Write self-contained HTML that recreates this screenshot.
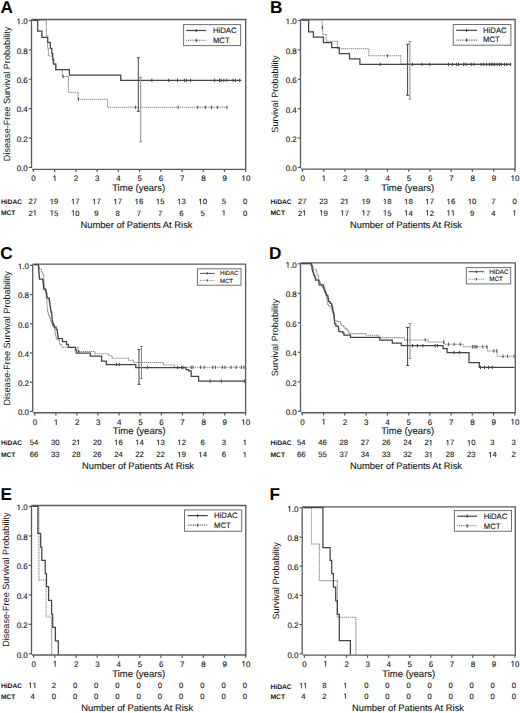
<!DOCTYPE html>
<html><head><meta charset="utf-8"><style>
html,body{margin:0;padding:0;background:#fff;}
svg{display:block;font-family:"Liberation Sans",sans-serif;text-rendering:geometricPrecision;}
</style></head><body>
<svg width="520" height="713" viewBox="0 0 520 713">
<rect width="520" height="713" fill="#fff"/>
<text x="0.4" y="12.9" font-size="17.2" text-anchor="start" font-weight="bold" fill="#000">A</text>
<path d="M31.5 19.5 V168" stroke="#5a5a5a" stroke-width="1.3" fill="none"/>
<path d="M31.5 19.5 H245.7 V169.3" stroke="#5a5a5a" stroke-width="1.3" fill="none"/>
<path d="M32.1 169.3 H246.1" stroke="#5a5a5a" stroke-width="1.35" fill="none"/>
<path d="M28.8 167.4 H31.5" stroke="#5a5a5a" stroke-width="1.25" fill="none"/>
<text x="27.8" y="171.2" font-size="8" text-anchor="end" font-weight="normal" fill="#161616" stroke="#161616" stroke-width="0.12">0.0</text>
<path d="M28.8 138.02 H31.5" stroke="#5a5a5a" stroke-width="1.25" fill="none"/>
<text x="27.8" y="141.82" font-size="8" text-anchor="end" font-weight="normal" fill="#161616" stroke="#161616" stroke-width="0.12">0.2</text>
<path d="M28.8 108.64 H31.5" stroke="#5a5a5a" stroke-width="1.25" fill="none"/>
<text x="27.8" y="112.44" font-size="8" text-anchor="end" font-weight="normal" fill="#161616" stroke="#161616" stroke-width="0.12">0.4</text>
<path d="M28.8 79.26 H31.5" stroke="#5a5a5a" stroke-width="1.25" fill="none"/>
<text x="27.8" y="83.06" font-size="8" text-anchor="end" font-weight="normal" fill="#161616" stroke="#161616" stroke-width="0.12">0.6</text>
<path d="M28.8 49.88 H31.5" stroke="#5a5a5a" stroke-width="1.25" fill="none"/>
<text x="27.8" y="53.68" font-size="8" text-anchor="end" font-weight="normal" fill="#161616" stroke="#161616" stroke-width="0.12">0.8</text>
<path d="M28.8 20.5 H31.5" stroke="#5a5a5a" stroke-width="1.25" fill="none"/>
<path d="M515 0L515 1237L197 1010L197 1180L530 1409L696 1409L696 0Z" fill="#161616" stroke="#161616" stroke-width="0.12" vector-effect="non-scaling-stroke" transform="translate(16.68 24.3) scale(0.003906 -0.003906)"/>
<text x="21.13" y="24.3" font-size="8" text-anchor="start" font-weight="normal" fill="#161616" stroke="#161616" stroke-width="0.12">.0</text>
<path d="M33.4 169.3 V172" stroke="#5a5a5a" stroke-width="1.25" fill="none"/>
<text x="33.6" y="181" font-size="8" text-anchor="middle" font-weight="normal" fill="#161616" stroke="#161616" stroke-width="0.12">0</text>
<path d="M54.63 169.3 V172" stroke="#5a5a5a" stroke-width="1.25" fill="none"/>
<path d="M515 0L515 1237L197 1010L197 1180L530 1409L696 1409L696 0Z" fill="#161616" stroke="#161616" stroke-width="0.12" vector-effect="non-scaling-stroke" transform="translate(52.61 181) scale(0.003906 -0.003906)"/>
<path d="M75.86 169.3 V172" stroke="#5a5a5a" stroke-width="1.25" fill="none"/>
<text x="76.06" y="181" font-size="8" text-anchor="middle" font-weight="normal" fill="#161616" stroke="#161616" stroke-width="0.12">2</text>
<path d="M97.09 169.3 V172" stroke="#5a5a5a" stroke-width="1.25" fill="none"/>
<text x="97.29" y="181" font-size="8" text-anchor="middle" font-weight="normal" fill="#161616" stroke="#161616" stroke-width="0.12">3</text>
<path d="M118.32 169.3 V172" stroke="#5a5a5a" stroke-width="1.25" fill="none"/>
<text x="118.52" y="181" font-size="8" text-anchor="middle" font-weight="normal" fill="#161616" stroke="#161616" stroke-width="0.12">4</text>
<path d="M139.55 169.3 V172" stroke="#5a5a5a" stroke-width="1.25" fill="none"/>
<text x="139.75" y="181" font-size="8" text-anchor="middle" font-weight="normal" fill="#161616" stroke="#161616" stroke-width="0.12">5</text>
<path d="M160.78 169.3 V172" stroke="#5a5a5a" stroke-width="1.25" fill="none"/>
<text x="160.98" y="181" font-size="8" text-anchor="middle" font-weight="normal" fill="#161616" stroke="#161616" stroke-width="0.12">6</text>
<path d="M182.01 169.3 V172" stroke="#5a5a5a" stroke-width="1.25" fill="none"/>
<text x="182.21" y="181" font-size="8" text-anchor="middle" font-weight="normal" fill="#161616" stroke="#161616" stroke-width="0.12">7</text>
<path d="M203.24 169.3 V172" stroke="#5a5a5a" stroke-width="1.25" fill="none"/>
<text x="203.44" y="181" font-size="8" text-anchor="middle" font-weight="normal" fill="#161616" stroke="#161616" stroke-width="0.12">8</text>
<path d="M224.47 169.3 V172" stroke="#5a5a5a" stroke-width="1.25" fill="none"/>
<text x="224.67" y="181" font-size="8" text-anchor="middle" font-weight="normal" fill="#161616" stroke="#161616" stroke-width="0.12">9</text>
<path d="M245.7 169.3 V172" stroke="#5a5a5a" stroke-width="1.25" fill="none"/>
<path d="M515 0L515 1237L197 1010L197 1180L530 1409L696 1409L696 0Z" fill="#161616" stroke="#161616" stroke-width="0.12" vector-effect="non-scaling-stroke" transform="translate(241.45 181) scale(0.003906 -0.003906)"/>
<text x="245.9" y="181" font-size="8" text-anchor="start" font-weight="normal" fill="#161616" stroke="#161616" stroke-width="0.12">0</text>
<text x="138.65" y="191.4" font-size="9.5" text-anchor="middle" font-weight="normal" fill="#161616" stroke="#161616" stroke-width="0.12">Time (years)</text>
<text x="0" y="0" font-size="9.1" text-anchor="middle" fill="#161616" transform="translate(10.1 93.95) rotate(-90)">Disease-Free Survival Probability</text>
<text x="0.9" y="204.2" font-size="6.7" text-anchor="start" font-weight="bold" fill="#111">HiDAC</text>
<text x="0.9" y="215.2" font-size="6.7" text-anchor="start" font-weight="bold" fill="#111">MCT</text>
<text x="32.8" y="204.3" font-size="7.7" text-anchor="middle" font-weight="normal" fill="#161616" stroke="#161616" stroke-width="0.12">27</text>
<text x="28.52" y="215.5" font-size="7.7" text-anchor="start" font-weight="normal" fill="#161616" stroke="#161616" stroke-width="0.12">2</text>
<path d="M515 0L515 1237L197 1010L197 1180L530 1409L696 1409L696 0Z" fill="#161616" stroke="#161616" stroke-width="0.12" vector-effect="non-scaling-stroke" transform="translate(32.8 215.5) scale(0.003760 -0.003760)"/>
<path d="M515 0L515 1237L197 1010L197 1180L530 1409L696 1409L696 0Z" fill="#161616" stroke="#161616" stroke-width="0.12" vector-effect="non-scaling-stroke" transform="translate(49.75 204.3) scale(0.003760 -0.003760)"/>
<text x="54.03" y="204.3" font-size="7.7" text-anchor="start" font-weight="normal" fill="#161616" stroke="#161616" stroke-width="0.12">9</text>
<path d="M515 0L515 1237L197 1010L197 1180L530 1409L696 1409L696 0Z" fill="#161616" stroke="#161616" stroke-width="0.12" vector-effect="non-scaling-stroke" transform="translate(49.75 215.5) scale(0.003760 -0.003760)"/>
<text x="54.03" y="215.5" font-size="7.7" text-anchor="start" font-weight="normal" fill="#161616" stroke="#161616" stroke-width="0.12">5</text>
<path d="M515 0L515 1237L197 1010L197 1180L530 1409L696 1409L696 0Z" fill="#161616" stroke="#161616" stroke-width="0.12" vector-effect="non-scaling-stroke" transform="translate(70.98 204.3) scale(0.003760 -0.003760)"/>
<text x="75.26" y="204.3" font-size="7.7" text-anchor="start" font-weight="normal" fill="#161616" stroke="#161616" stroke-width="0.12">7</text>
<path d="M515 0L515 1237L197 1010L197 1180L530 1409L696 1409L696 0Z" fill="#161616" stroke="#161616" stroke-width="0.12" vector-effect="non-scaling-stroke" transform="translate(70.98 215.5) scale(0.003760 -0.003760)"/>
<text x="75.26" y="215.5" font-size="7.7" text-anchor="start" font-weight="normal" fill="#161616" stroke="#161616" stroke-width="0.12">0</text>
<path d="M515 0L515 1237L197 1010L197 1180L530 1409L696 1409L696 0Z" fill="#161616" stroke="#161616" stroke-width="0.12" vector-effect="non-scaling-stroke" transform="translate(92.21 204.3) scale(0.003760 -0.003760)"/>
<text x="96.49" y="204.3" font-size="7.7" text-anchor="start" font-weight="normal" fill="#161616" stroke="#161616" stroke-width="0.12">7</text>
<text x="96.49" y="215.5" font-size="7.7" text-anchor="middle" font-weight="normal" fill="#161616" stroke="#161616" stroke-width="0.12">9</text>
<path d="M515 0L515 1237L197 1010L197 1180L530 1409L696 1409L696 0Z" fill="#161616" stroke="#161616" stroke-width="0.12" vector-effect="non-scaling-stroke" transform="translate(113.44 204.3) scale(0.003760 -0.003760)"/>
<text x="117.72" y="204.3" font-size="7.7" text-anchor="start" font-weight="normal" fill="#161616" stroke="#161616" stroke-width="0.12">7</text>
<text x="117.72" y="215.5" font-size="7.7" text-anchor="middle" font-weight="normal" fill="#161616" stroke="#161616" stroke-width="0.12">8</text>
<path d="M515 0L515 1237L197 1010L197 1180L530 1409L696 1409L696 0Z" fill="#161616" stroke="#161616" stroke-width="0.12" vector-effect="non-scaling-stroke" transform="translate(134.67 204.3) scale(0.003760 -0.003760)"/>
<text x="138.95" y="204.3" font-size="7.7" text-anchor="start" font-weight="normal" fill="#161616" stroke="#161616" stroke-width="0.12">6</text>
<text x="138.95" y="215.5" font-size="7.7" text-anchor="middle" font-weight="normal" fill="#161616" stroke="#161616" stroke-width="0.12">7</text>
<path d="M515 0L515 1237L197 1010L197 1180L530 1409L696 1409L696 0Z" fill="#161616" stroke="#161616" stroke-width="0.12" vector-effect="non-scaling-stroke" transform="translate(155.9 204.3) scale(0.003760 -0.003760)"/>
<text x="160.18" y="204.3" font-size="7.7" text-anchor="start" font-weight="normal" fill="#161616" stroke="#161616" stroke-width="0.12">5</text>
<text x="160.18" y="215.5" font-size="7.7" text-anchor="middle" font-weight="normal" fill="#161616" stroke="#161616" stroke-width="0.12">7</text>
<path d="M515 0L515 1237L197 1010L197 1180L530 1409L696 1409L696 0Z" fill="#161616" stroke="#161616" stroke-width="0.12" vector-effect="non-scaling-stroke" transform="translate(177.13 204.3) scale(0.003760 -0.003760)"/>
<text x="181.41" y="204.3" font-size="7.7" text-anchor="start" font-weight="normal" fill="#161616" stroke="#161616" stroke-width="0.12">3</text>
<text x="181.41" y="215.5" font-size="7.7" text-anchor="middle" font-weight="normal" fill="#161616" stroke="#161616" stroke-width="0.12">6</text>
<path d="M515 0L515 1237L197 1010L197 1180L530 1409L696 1409L696 0Z" fill="#161616" stroke="#161616" stroke-width="0.12" vector-effect="non-scaling-stroke" transform="translate(198.36 204.3) scale(0.003760 -0.003760)"/>
<text x="202.64" y="204.3" font-size="7.7" text-anchor="start" font-weight="normal" fill="#161616" stroke="#161616" stroke-width="0.12">0</text>
<text x="202.64" y="215.5" font-size="7.7" text-anchor="middle" font-weight="normal" fill="#161616" stroke="#161616" stroke-width="0.12">5</text>
<text x="223.87" y="204.3" font-size="7.7" text-anchor="middle" font-weight="normal" fill="#161616" stroke="#161616" stroke-width="0.12">5</text>
<path d="M515 0L515 1237L197 1010L197 1180L530 1409L696 1409L696 0Z" fill="#161616" stroke="#161616" stroke-width="0.12" vector-effect="non-scaling-stroke" transform="translate(221.73 215.5) scale(0.003760 -0.003760)"/>
<text x="245.1" y="204.3" font-size="7.7" text-anchor="middle" font-weight="normal" fill="#161616" stroke="#161616" stroke-width="0.12">0</text>
<text x="245.1" y="215.5" font-size="7.7" text-anchor="middle" font-weight="normal" fill="#161616" stroke="#161616" stroke-width="0.12">0</text>
<text x="80.5" y="228" font-size="9.4" text-anchor="start" font-weight="normal" fill="#161616" stroke="#161616" stroke-width="0.12">Number of Patients At Risk</text>
<rect x="183.6" y="24.6" width="57" height="21" fill="#fff" stroke="#707070" stroke-width="1"/>
<path d="M186.2 30.5 H206.3" stroke="#444444" stroke-width="1.2" fill="none"/>
<path d="M196.25 28.9 V32.1" stroke="#444444" stroke-width="1.1" fill="none"/>
<path d="M186.2 40.3 H206.3" stroke="#666" stroke-width="1.1" stroke-dasharray="1 0.8" fill="none"/>
<path d="M196.25 38.7 V41.9" stroke="#444" stroke-width="1.1" fill="none"/>
<text x="212.9" y="32.6" font-size="7.75" text-anchor="start" font-weight="normal" fill="#161616" stroke="#161616" stroke-width="0.12">HiDAC</text>
<text x="212.9" y="42.6" font-size="7.75" text-anchor="start" font-weight="normal" fill="#161616" stroke="#161616" stroke-width="0.12">MCT</text>
<path d="M32.5 20.4H46.3V36H47.6V48H48.4V55.9H52.7V64H55.8V69.6H62.4V76.5H68.4V92.2H78.1V99.2H107.6V107.3H227" stroke="#8a8a8a" stroke-width="1.05" stroke-dasharray="1.4 0.6" fill="none"/>
<path d="M32.5 20.4H37.7V31.2H41.9V37.3H47.7V42.3H50.3V48.4H51.8V53.6H52.7V59H53.6V64.2H55.8V69.7H69.4V75.1H120.8V80.4H241.3" stroke="#444444" stroke-width="1.25" fill="none"/>
<path d="M151.9 78.7 V82.1" stroke="#444444" stroke-width="1" fill="none"/>
<path d="M168.6 78.7 V82.1" stroke="#444444" stroke-width="1" fill="none"/>
<path d="M177.5 78.7 V82.1" stroke="#444444" stroke-width="1" fill="none"/>
<path d="M184.4 78.7 V82.1" stroke="#444444" stroke-width="1" fill="none"/>
<path d="M186.3 78.7 V82.1" stroke="#444444" stroke-width="1" fill="none"/>
<path d="M190.7 78.7 V82.1" stroke="#444444" stroke-width="1" fill="none"/>
<path d="M214.7 78.7 V82.1" stroke="#444444" stroke-width="1" fill="none"/>
<path d="M219.5 78.7 V82.1" stroke="#444444" stroke-width="1" fill="none"/>
<path d="M221 78.7 V82.1" stroke="#444444" stroke-width="1" fill="none"/>
<path d="M223.8 78.7 V82.1" stroke="#444444" stroke-width="1" fill="none"/>
<path d="M226.7 78.7 V82.1" stroke="#444444" stroke-width="1" fill="none"/>
<path d="M233 78.7 V82.1" stroke="#444444" stroke-width="1" fill="none"/>
<path d="M235.4 78.7 V82.1" stroke="#444444" stroke-width="1" fill="none"/>
<path d="M239.7 78.7 V82.1" stroke="#444444" stroke-width="1" fill="none"/>
<path d="M63.1 74.8 V78.2" stroke="#505050" stroke-width="1" fill="none"/>
<path d="M78.5 97.5 V100.9" stroke="#505050" stroke-width="1" fill="none"/>
<path d="M135.6 105.6 V109" stroke="#505050" stroke-width="1" fill="none"/>
<path d="M178.2 105.6 V109" stroke="#505050" stroke-width="1" fill="none"/>
<path d="M197.7 105.6 V109" stroke="#505050" stroke-width="1" fill="none"/>
<path d="M205.4 105.6 V109" stroke="#505050" stroke-width="1" fill="none"/>
<path d="M211.5 105.6 V109" stroke="#505050" stroke-width="1" fill="none"/>
<path d="M217.4 105.6 V109" stroke="#505050" stroke-width="1" fill="none"/>
<path d="M227 105.6 V109" stroke="#505050" stroke-width="1" fill="none"/>
<path d="M138.3 57.7 V111.3 M136.8 57.7 H139.8 M136.8 111.3 H139.8" stroke="#444444" stroke-width="1" fill="none"/>
<path d="M140.7 77.3 V141.7 M139.2 77.3 H142.2 M139.2 141.7 H142.2" stroke="#8c8c8c" stroke-width="1" fill="none"/>
<text x="270" y="12.9" font-size="17.2" text-anchor="start" font-weight="bold" fill="#000">B</text>
<path d="M300.5 19.5 V168.1" stroke="#5a5a5a" stroke-width="1.3" fill="none"/>
<path d="M300.5 19.5 H515.1 V169.1" stroke="#5a5a5a" stroke-width="1.3" fill="none"/>
<path d="M301.1 169.1 H515.5" stroke="#5a5a5a" stroke-width="1.35" fill="none"/>
<path d="M297.8 167.5 H300.5" stroke="#5a5a5a" stroke-width="1.25" fill="none"/>
<text x="296.8" y="171.3" font-size="8" text-anchor="end" font-weight="normal" fill="#161616" stroke="#161616" stroke-width="0.12">0.0</text>
<path d="M297.8 138.1 H300.5" stroke="#5a5a5a" stroke-width="1.25" fill="none"/>
<text x="296.8" y="141.9" font-size="8" text-anchor="end" font-weight="normal" fill="#161616" stroke="#161616" stroke-width="0.12">0.2</text>
<path d="M297.8 108.7 H300.5" stroke="#5a5a5a" stroke-width="1.25" fill="none"/>
<text x="296.8" y="112.5" font-size="8" text-anchor="end" font-weight="normal" fill="#161616" stroke="#161616" stroke-width="0.12">0.4</text>
<path d="M297.8 79.3 H300.5" stroke="#5a5a5a" stroke-width="1.25" fill="none"/>
<text x="296.8" y="83.1" font-size="8" text-anchor="end" font-weight="normal" fill="#161616" stroke="#161616" stroke-width="0.12">0.6</text>
<path d="M297.8 49.9 H300.5" stroke="#5a5a5a" stroke-width="1.25" fill="none"/>
<text x="296.8" y="53.7" font-size="8" text-anchor="end" font-weight="normal" fill="#161616" stroke="#161616" stroke-width="0.12">0.8</text>
<path d="M297.8 20.5 H300.5" stroke="#5a5a5a" stroke-width="1.25" fill="none"/>
<path d="M515 0L515 1237L197 1010L197 1180L530 1409L696 1409L696 0Z" fill="#161616" stroke="#161616" stroke-width="0.12" vector-effect="non-scaling-stroke" transform="translate(285.68 24.3) scale(0.003906 -0.003906)"/>
<text x="290.13" y="24.3" font-size="8" text-anchor="start" font-weight="normal" fill="#161616" stroke="#161616" stroke-width="0.12">.0</text>
<path d="M302.5 169.1 V171.8" stroke="#5a5a5a" stroke-width="1.25" fill="none"/>
<text x="302.7" y="181" font-size="8" text-anchor="middle" font-weight="normal" fill="#161616" stroke="#161616" stroke-width="0.12">0</text>
<path d="M323.74 169.1 V171.8" stroke="#5a5a5a" stroke-width="1.25" fill="none"/>
<path d="M515 0L515 1237L197 1010L197 1180L530 1409L696 1409L696 0Z" fill="#161616" stroke="#161616" stroke-width="0.12" vector-effect="non-scaling-stroke" transform="translate(321.72 181) scale(0.003906 -0.003906)"/>
<path d="M344.98 169.1 V171.8" stroke="#5a5a5a" stroke-width="1.25" fill="none"/>
<text x="345.18" y="181" font-size="8" text-anchor="middle" font-weight="normal" fill="#161616" stroke="#161616" stroke-width="0.12">2</text>
<path d="M366.22 169.1 V171.8" stroke="#5a5a5a" stroke-width="1.25" fill="none"/>
<text x="366.42" y="181" font-size="8" text-anchor="middle" font-weight="normal" fill="#161616" stroke="#161616" stroke-width="0.12">3</text>
<path d="M387.46 169.1 V171.8" stroke="#5a5a5a" stroke-width="1.25" fill="none"/>
<text x="387.66" y="181" font-size="8" text-anchor="middle" font-weight="normal" fill="#161616" stroke="#161616" stroke-width="0.12">4</text>
<path d="M408.7 169.1 V171.8" stroke="#5a5a5a" stroke-width="1.25" fill="none"/>
<text x="408.9" y="181" font-size="8" text-anchor="middle" font-weight="normal" fill="#161616" stroke="#161616" stroke-width="0.12">5</text>
<path d="M429.94 169.1 V171.8" stroke="#5a5a5a" stroke-width="1.25" fill="none"/>
<text x="430.14" y="181" font-size="8" text-anchor="middle" font-weight="normal" fill="#161616" stroke="#161616" stroke-width="0.12">6</text>
<path d="M451.18 169.1 V171.8" stroke="#5a5a5a" stroke-width="1.25" fill="none"/>
<text x="451.38" y="181" font-size="8" text-anchor="middle" font-weight="normal" fill="#161616" stroke="#161616" stroke-width="0.12">7</text>
<path d="M472.42 169.1 V171.8" stroke="#5a5a5a" stroke-width="1.25" fill="none"/>
<text x="472.62" y="181" font-size="8" text-anchor="middle" font-weight="normal" fill="#161616" stroke="#161616" stroke-width="0.12">8</text>
<path d="M493.66 169.1 V171.8" stroke="#5a5a5a" stroke-width="1.25" fill="none"/>
<text x="493.86" y="181" font-size="8" text-anchor="middle" font-weight="normal" fill="#161616" stroke="#161616" stroke-width="0.12">9</text>
<path d="M514.9 169.1 V171.8" stroke="#5a5a5a" stroke-width="1.25" fill="none"/>
<path d="M515 0L515 1237L197 1010L197 1180L530 1409L696 1409L696 0Z" fill="#161616" stroke="#161616" stroke-width="0.12" vector-effect="non-scaling-stroke" transform="translate(510.65 181) scale(0.003906 -0.003906)"/>
<text x="515.1" y="181" font-size="8" text-anchor="start" font-weight="normal" fill="#161616" stroke="#161616" stroke-width="0.12">0</text>
<text x="407.8" y="191.4" font-size="9.5" text-anchor="middle" font-weight="normal" fill="#161616" stroke="#161616" stroke-width="0.12">Time (years)</text>
<text x="0" y="0" font-size="9.1" text-anchor="middle" fill="#161616" transform="translate(278.4 94) rotate(-90)">Survival Probability</text>
<text x="270.5" y="204.2" font-size="6.7" text-anchor="start" font-weight="bold" fill="#111">HiDAC</text>
<text x="270.5" y="215.2" font-size="6.7" text-anchor="start" font-weight="bold" fill="#111">MCT</text>
<text x="302.2" y="204.3" font-size="7.7" text-anchor="middle" font-weight="normal" fill="#161616" stroke="#161616" stroke-width="0.12">27</text>
<text x="297.92" y="215.5" font-size="7.7" text-anchor="start" font-weight="normal" fill="#161616" stroke="#161616" stroke-width="0.12">2</text>
<path d="M515 0L515 1237L197 1010L197 1180L530 1409L696 1409L696 0Z" fill="#161616" stroke="#161616" stroke-width="0.12" vector-effect="non-scaling-stroke" transform="translate(302.2 215.5) scale(0.003760 -0.003760)"/>
<text x="323.44" y="204.3" font-size="7.7" text-anchor="middle" font-weight="normal" fill="#161616" stroke="#161616" stroke-width="0.12">23</text>
<path d="M515 0L515 1237L197 1010L197 1180L530 1409L696 1409L696 0Z" fill="#161616" stroke="#161616" stroke-width="0.12" vector-effect="non-scaling-stroke" transform="translate(319.16 215.5) scale(0.003760 -0.003760)"/>
<text x="323.44" y="215.5" font-size="7.7" text-anchor="start" font-weight="normal" fill="#161616" stroke="#161616" stroke-width="0.12">9</text>
<text x="340.4" y="204.3" font-size="7.7" text-anchor="start" font-weight="normal" fill="#161616" stroke="#161616" stroke-width="0.12">2</text>
<path d="M515 0L515 1237L197 1010L197 1180L530 1409L696 1409L696 0Z" fill="#161616" stroke="#161616" stroke-width="0.12" vector-effect="non-scaling-stroke" transform="translate(344.68 204.3) scale(0.003760 -0.003760)"/>
<path d="M515 0L515 1237L197 1010L197 1180L530 1409L696 1409L696 0Z" fill="#161616" stroke="#161616" stroke-width="0.12" vector-effect="non-scaling-stroke" transform="translate(340.4 215.5) scale(0.003760 -0.003760)"/>
<text x="344.68" y="215.5" font-size="7.7" text-anchor="start" font-weight="normal" fill="#161616" stroke="#161616" stroke-width="0.12">7</text>
<path d="M515 0L515 1237L197 1010L197 1180L530 1409L696 1409L696 0Z" fill="#161616" stroke="#161616" stroke-width="0.12" vector-effect="non-scaling-stroke" transform="translate(361.64 204.3) scale(0.003760 -0.003760)"/>
<text x="365.92" y="204.3" font-size="7.7" text-anchor="start" font-weight="normal" fill="#161616" stroke="#161616" stroke-width="0.12">9</text>
<path d="M515 0L515 1237L197 1010L197 1180L530 1409L696 1409L696 0Z" fill="#161616" stroke="#161616" stroke-width="0.12" vector-effect="non-scaling-stroke" transform="translate(361.64 215.5) scale(0.003760 -0.003760)"/>
<text x="365.92" y="215.5" font-size="7.7" text-anchor="start" font-weight="normal" fill="#161616" stroke="#161616" stroke-width="0.12">7</text>
<path d="M515 0L515 1237L197 1010L197 1180L530 1409L696 1409L696 0Z" fill="#161616" stroke="#161616" stroke-width="0.12" vector-effect="non-scaling-stroke" transform="translate(382.88 204.3) scale(0.003760 -0.003760)"/>
<text x="387.16" y="204.3" font-size="7.7" text-anchor="start" font-weight="normal" fill="#161616" stroke="#161616" stroke-width="0.12">8</text>
<path d="M515 0L515 1237L197 1010L197 1180L530 1409L696 1409L696 0Z" fill="#161616" stroke="#161616" stroke-width="0.12" vector-effect="non-scaling-stroke" transform="translate(382.88 215.5) scale(0.003760 -0.003760)"/>
<text x="387.16" y="215.5" font-size="7.7" text-anchor="start" font-weight="normal" fill="#161616" stroke="#161616" stroke-width="0.12">5</text>
<path d="M515 0L515 1237L197 1010L197 1180L530 1409L696 1409L696 0Z" fill="#161616" stroke="#161616" stroke-width="0.12" vector-effect="non-scaling-stroke" transform="translate(404.12 204.3) scale(0.003760 -0.003760)"/>
<text x="408.4" y="204.3" font-size="7.7" text-anchor="start" font-weight="normal" fill="#161616" stroke="#161616" stroke-width="0.12">8</text>
<path d="M515 0L515 1237L197 1010L197 1180L530 1409L696 1409L696 0Z" fill="#161616" stroke="#161616" stroke-width="0.12" vector-effect="non-scaling-stroke" transform="translate(404.12 215.5) scale(0.003760 -0.003760)"/>
<text x="408.4" y="215.5" font-size="7.7" text-anchor="start" font-weight="normal" fill="#161616" stroke="#161616" stroke-width="0.12">4</text>
<path d="M515 0L515 1237L197 1010L197 1180L530 1409L696 1409L696 0Z" fill="#161616" stroke="#161616" stroke-width="0.12" vector-effect="non-scaling-stroke" transform="translate(425.36 204.3) scale(0.003760 -0.003760)"/>
<text x="429.64" y="204.3" font-size="7.7" text-anchor="start" font-weight="normal" fill="#161616" stroke="#161616" stroke-width="0.12">7</text>
<path d="M515 0L515 1237L197 1010L197 1180L530 1409L696 1409L696 0Z" fill="#161616" stroke="#161616" stroke-width="0.12" vector-effect="non-scaling-stroke" transform="translate(425.36 215.5) scale(0.003760 -0.003760)"/>
<text x="429.64" y="215.5" font-size="7.7" text-anchor="start" font-weight="normal" fill="#161616" stroke="#161616" stroke-width="0.12">2</text>
<path d="M515 0L515 1237L197 1010L197 1180L530 1409L696 1409L696 0Z" fill="#161616" stroke="#161616" stroke-width="0.12" vector-effect="non-scaling-stroke" transform="translate(446.6 204.3) scale(0.003760 -0.003760)"/>
<text x="450.88" y="204.3" font-size="7.7" text-anchor="start" font-weight="normal" fill="#161616" stroke="#161616" stroke-width="0.12">6</text>
<path d="M515 0L515 1237L197 1010L197 1180L530 1409L696 1409L696 0Z" fill="#161616" stroke="#161616" stroke-width="0.12" vector-effect="non-scaling-stroke" transform="translate(446.6 215.5) scale(0.003760 -0.003760)"/>
<path d="M515 0L515 1237L197 1010L197 1180L530 1409L696 1409L696 0Z" fill="#161616" stroke="#161616" stroke-width="0.12" vector-effect="non-scaling-stroke" transform="translate(450.88 215.5) scale(0.003760 -0.003760)"/>
<path d="M515 0L515 1237L197 1010L197 1180L530 1409L696 1409L696 0Z" fill="#161616" stroke="#161616" stroke-width="0.12" vector-effect="non-scaling-stroke" transform="translate(467.84 204.3) scale(0.003760 -0.003760)"/>
<text x="472.12" y="204.3" font-size="7.7" text-anchor="start" font-weight="normal" fill="#161616" stroke="#161616" stroke-width="0.12">0</text>
<text x="472.12" y="215.5" font-size="7.7" text-anchor="middle" font-weight="normal" fill="#161616" stroke="#161616" stroke-width="0.12">9</text>
<text x="493.36" y="204.3" font-size="7.7" text-anchor="middle" font-weight="normal" fill="#161616" stroke="#161616" stroke-width="0.12">7</text>
<text x="493.36" y="215.5" font-size="7.7" text-anchor="middle" font-weight="normal" fill="#161616" stroke="#161616" stroke-width="0.12">4</text>
<text x="514.6" y="204.3" font-size="7.7" text-anchor="middle" font-weight="normal" fill="#161616" stroke="#161616" stroke-width="0.12">0</text>
<path d="M515 0L515 1237L197 1010L197 1180L530 1409L696 1409L696 0Z" fill="#161616" stroke="#161616" stroke-width="0.12" vector-effect="non-scaling-stroke" transform="translate(512.46 215.5) scale(0.003760 -0.003760)"/>
<text x="350" y="228" font-size="9.4" text-anchor="start" font-weight="normal" fill="#161616" stroke="#161616" stroke-width="0.12">Number of Patients At Risk</text>
<rect x="453.2" y="24.5" width="57.7" height="20.7" fill="#fff" stroke="#707070" stroke-width="1"/>
<path d="M456.2 30.3 H477" stroke="#444444" stroke-width="1.2" fill="none"/>
<path d="M466.6 28.7 V31.9" stroke="#444444" stroke-width="1.1" fill="none"/>
<path d="M456.2 40.1 H477" stroke="#666" stroke-width="1.1" stroke-dasharray="1 0.8" fill="none"/>
<path d="M466.6 38.5 V41.7" stroke="#444" stroke-width="1.1" fill="none"/>
<text x="483" y="32.5" font-size="7.75" text-anchor="start" font-weight="normal" fill="#161616" stroke="#161616" stroke-width="0.12">HiDAC</text>
<text x="483" y="42.4" font-size="7.75" text-anchor="start" font-weight="normal" fill="#161616" stroke="#161616" stroke-width="0.12">MCT</text>
<path d="M301.5 20H322.2V27.5H322.6V34.5H326.2V41.2H337.4V48.7H368.8V55.8H400.8V63.9H511.3" stroke="#8a8a8a" stroke-width="1.05" stroke-dasharray="1.4 0.6" fill="none"/>
<path d="M301.5 20H308.6V31.9H313.4V37.1H323.4V42.5H331.7V47.7H339.3V53.5H349.5V58.8H359.9V64.4H511.3" stroke="#444444" stroke-width="1.25" fill="none"/>
<path d="M380.3 62.7 V66.1" stroke="#444444" stroke-width="1" fill="none"/>
<path d="M412.4 62.7 V66.1" stroke="#444444" stroke-width="1" fill="none"/>
<path d="M422 62.7 V66.1" stroke="#444444" stroke-width="1" fill="none"/>
<path d="M429.7 62.7 V66.1" stroke="#444444" stroke-width="1" fill="none"/>
<path d="M448.5 62.7 V66.1" stroke="#444444" stroke-width="1" fill="none"/>
<path d="M452.3 62.7 V66.1" stroke="#444444" stroke-width="1" fill="none"/>
<path d="M456.6 62.7 V66.1" stroke="#444444" stroke-width="1" fill="none"/>
<path d="M458.5 62.7 V66.1" stroke="#444444" stroke-width="1" fill="none"/>
<path d="M463.7 62.7 V66.1" stroke="#444444" stroke-width="1" fill="none"/>
<path d="M466 62.7 V66.1" stroke="#444444" stroke-width="1" fill="none"/>
<path d="M471.2 62.7 V66.1" stroke="#444444" stroke-width="1" fill="none"/>
<path d="M474 62.7 V66.1" stroke="#444444" stroke-width="1" fill="none"/>
<path d="M481 62.7 V66.1" stroke="#444444" stroke-width="1" fill="none"/>
<path d="M483.8 62.7 V66.1" stroke="#444444" stroke-width="1" fill="none"/>
<path d="M486.7 62.7 V66.1" stroke="#444444" stroke-width="1" fill="none"/>
<path d="M489.6 62.7 V66.1" stroke="#444444" stroke-width="1" fill="none"/>
<path d="M491.7 62.7 V66.1" stroke="#444444" stroke-width="1" fill="none"/>
<path d="M493.1 62.7 V66.1" stroke="#444444" stroke-width="1" fill="none"/>
<path d="M494.8 62.7 V66.1" stroke="#444444" stroke-width="1" fill="none"/>
<path d="M497.1 62.7 V66.1" stroke="#444444" stroke-width="1" fill="none"/>
<path d="M499.4 62.7 V66.1" stroke="#444444" stroke-width="1" fill="none"/>
<path d="M501.2 62.7 V66.1" stroke="#444444" stroke-width="1" fill="none"/>
<path d="M504.6 62.7 V66.1" stroke="#444444" stroke-width="1" fill="none"/>
<path d="M506.9 62.7 V66.1" stroke="#444444" stroke-width="1" fill="none"/>
<path d="M510.4 62.7 V66.1" stroke="#444444" stroke-width="1" fill="none"/>
<path d="M322.4 25.8 V29.2" stroke="#505050" stroke-width="1" fill="none"/>
<path d="M387.4 54.1 V57.5" stroke="#505050" stroke-width="1" fill="none"/>
<path d="M407.6 44.2 V95.3 M406.1 44.2 H409.1 M406.1 95.3 H409.1" stroke="#444444" stroke-width="1" fill="none"/>
<path d="M409.9 41.4 V99 M408.4 41.4 H411.4 M408.4 99 H411.4" stroke="#8c8c8c" stroke-width="1" fill="none"/>
<text x="0.2" y="258.6" font-size="17.2" text-anchor="start" font-weight="bold" fill="#000">C</text>
<path d="M32.7 264.2 V411.9" stroke="#5a5a5a" stroke-width="1.3" fill="none"/>
<path d="M32.7 264.2 H245.6 V412.7" stroke="#5a5a5a" stroke-width="1.3" fill="none"/>
<path d="M33.3 412.7 H246" stroke="#5a5a5a" stroke-width="1.35" fill="none"/>
<path d="M30 411.3 H32.7" stroke="#5a5a5a" stroke-width="1.25" fill="none"/>
<text x="29" y="415.1" font-size="8" text-anchor="end" font-weight="normal" fill="#161616" stroke="#161616" stroke-width="0.12">0.0</text>
<path d="M30 382.12 H32.7" stroke="#5a5a5a" stroke-width="1.25" fill="none"/>
<text x="29" y="385.92" font-size="8" text-anchor="end" font-weight="normal" fill="#161616" stroke="#161616" stroke-width="0.12">0.2</text>
<path d="M30 352.94 H32.7" stroke="#5a5a5a" stroke-width="1.25" fill="none"/>
<text x="29" y="356.74" font-size="8" text-anchor="end" font-weight="normal" fill="#161616" stroke="#161616" stroke-width="0.12">0.4</text>
<path d="M30 323.76 H32.7" stroke="#5a5a5a" stroke-width="1.25" fill="none"/>
<text x="29" y="327.56" font-size="8" text-anchor="end" font-weight="normal" fill="#161616" stroke="#161616" stroke-width="0.12">0.6</text>
<path d="M30 294.58 H32.7" stroke="#5a5a5a" stroke-width="1.25" fill="none"/>
<text x="29" y="298.38" font-size="8" text-anchor="end" font-weight="normal" fill="#161616" stroke="#161616" stroke-width="0.12">0.8</text>
<path d="M30 265.4 H32.7" stroke="#5a5a5a" stroke-width="1.25" fill="none"/>
<path d="M515 0L515 1237L197 1010L197 1180L530 1409L696 1409L696 0Z" fill="#161616" stroke="#161616" stroke-width="0.12" vector-effect="non-scaling-stroke" transform="translate(17.88 269.2) scale(0.003906 -0.003906)"/>
<text x="22.33" y="269.2" font-size="8" text-anchor="start" font-weight="normal" fill="#161616" stroke="#161616" stroke-width="0.12">.0</text>
<path d="M34.8 412.7 V415.4" stroke="#5a5a5a" stroke-width="1.25" fill="none"/>
<text x="35" y="425" font-size="8" text-anchor="middle" font-weight="normal" fill="#161616" stroke="#161616" stroke-width="0.12">0</text>
<path d="M55.88 412.7 V415.4" stroke="#5a5a5a" stroke-width="1.25" fill="none"/>
<path d="M515 0L515 1237L197 1010L197 1180L530 1409L696 1409L696 0Z" fill="#161616" stroke="#161616" stroke-width="0.12" vector-effect="non-scaling-stroke" transform="translate(53.86 425) scale(0.003906 -0.003906)"/>
<path d="M76.96 412.7 V415.4" stroke="#5a5a5a" stroke-width="1.25" fill="none"/>
<text x="77.16" y="425" font-size="8" text-anchor="middle" font-weight="normal" fill="#161616" stroke="#161616" stroke-width="0.12">2</text>
<path d="M98.04 412.7 V415.4" stroke="#5a5a5a" stroke-width="1.25" fill="none"/>
<text x="98.24" y="425" font-size="8" text-anchor="middle" font-weight="normal" fill="#161616" stroke="#161616" stroke-width="0.12">3</text>
<path d="M119.12 412.7 V415.4" stroke="#5a5a5a" stroke-width="1.25" fill="none"/>
<text x="119.32" y="425" font-size="8" text-anchor="middle" font-weight="normal" fill="#161616" stroke="#161616" stroke-width="0.12">4</text>
<path d="M140.2 412.7 V415.4" stroke="#5a5a5a" stroke-width="1.25" fill="none"/>
<text x="140.4" y="425" font-size="8" text-anchor="middle" font-weight="normal" fill="#161616" stroke="#161616" stroke-width="0.12">5</text>
<path d="M161.28 412.7 V415.4" stroke="#5a5a5a" stroke-width="1.25" fill="none"/>
<text x="161.48" y="425" font-size="8" text-anchor="middle" font-weight="normal" fill="#161616" stroke="#161616" stroke-width="0.12">6</text>
<path d="M182.36 412.7 V415.4" stroke="#5a5a5a" stroke-width="1.25" fill="none"/>
<text x="182.56" y="425" font-size="8" text-anchor="middle" font-weight="normal" fill="#161616" stroke="#161616" stroke-width="0.12">7</text>
<path d="M203.44 412.7 V415.4" stroke="#5a5a5a" stroke-width="1.25" fill="none"/>
<text x="203.64" y="425" font-size="8" text-anchor="middle" font-weight="normal" fill="#161616" stroke="#161616" stroke-width="0.12">8</text>
<path d="M224.52 412.7 V415.4" stroke="#5a5a5a" stroke-width="1.25" fill="none"/>
<text x="224.72" y="425" font-size="8" text-anchor="middle" font-weight="normal" fill="#161616" stroke="#161616" stroke-width="0.12">9</text>
<path d="M245.6 412.7 V415.4" stroke="#5a5a5a" stroke-width="1.25" fill="none"/>
<path d="M515 0L515 1237L197 1010L197 1180L530 1409L696 1409L696 0Z" fill="#161616" stroke="#161616" stroke-width="0.12" vector-effect="non-scaling-stroke" transform="translate(241.35 425) scale(0.003906 -0.003906)"/>
<text x="245.8" y="425" font-size="8" text-anchor="start" font-weight="normal" fill="#161616" stroke="#161616" stroke-width="0.12">0</text>
<text x="139.3" y="434.1" font-size="9.5" text-anchor="middle" font-weight="normal" fill="#161616" stroke="#161616" stroke-width="0.12">Time (years)</text>
<text x="0" y="0" font-size="9.1" text-anchor="middle" fill="#161616" transform="translate(10.1 338.35) rotate(-90)">Disease-Free Survival Probability</text>
<text x="0.9" y="444.9" font-size="6.7" text-anchor="start" font-weight="bold" fill="#111">HiDAC</text>
<text x="0.9" y="456.9" font-size="6.7" text-anchor="start" font-weight="bold" fill="#111">MCT</text>
<text x="34.1" y="445" font-size="7.7" text-anchor="middle" font-weight="normal" fill="#161616" stroke="#161616" stroke-width="0.12">54</text>
<text x="34.1" y="457.2" font-size="7.7" text-anchor="middle" font-weight="normal" fill="#161616" stroke="#161616" stroke-width="0.12">66</text>
<text x="55.18" y="445" font-size="7.7" text-anchor="middle" font-weight="normal" fill="#161616" stroke="#161616" stroke-width="0.12">30</text>
<text x="55.18" y="457.2" font-size="7.7" text-anchor="middle" font-weight="normal" fill="#161616" stroke="#161616" stroke-width="0.12">33</text>
<text x="71.98" y="445" font-size="7.7" text-anchor="start" font-weight="normal" fill="#161616" stroke="#161616" stroke-width="0.12">2</text>
<path d="M515 0L515 1237L197 1010L197 1180L530 1409L696 1409L696 0Z" fill="#161616" stroke="#161616" stroke-width="0.12" vector-effect="non-scaling-stroke" transform="translate(76.26 445) scale(0.003760 -0.003760)"/>
<text x="76.26" y="457.2" font-size="7.7" text-anchor="middle" font-weight="normal" fill="#161616" stroke="#161616" stroke-width="0.12">28</text>
<text x="97.34" y="445" font-size="7.7" text-anchor="middle" font-weight="normal" fill="#161616" stroke="#161616" stroke-width="0.12">20</text>
<text x="97.34" y="457.2" font-size="7.7" text-anchor="middle" font-weight="normal" fill="#161616" stroke="#161616" stroke-width="0.12">26</text>
<path d="M515 0L515 1237L197 1010L197 1180L530 1409L696 1409L696 0Z" fill="#161616" stroke="#161616" stroke-width="0.12" vector-effect="non-scaling-stroke" transform="translate(114.14 445) scale(0.003760 -0.003760)"/>
<text x="118.42" y="445" font-size="7.7" text-anchor="start" font-weight="normal" fill="#161616" stroke="#161616" stroke-width="0.12">6</text>
<text x="118.42" y="457.2" font-size="7.7" text-anchor="middle" font-weight="normal" fill="#161616" stroke="#161616" stroke-width="0.12">24</text>
<path d="M515 0L515 1237L197 1010L197 1180L530 1409L696 1409L696 0Z" fill="#161616" stroke="#161616" stroke-width="0.12" vector-effect="non-scaling-stroke" transform="translate(135.22 445) scale(0.003760 -0.003760)"/>
<text x="139.5" y="445" font-size="7.7" text-anchor="start" font-weight="normal" fill="#161616" stroke="#161616" stroke-width="0.12">4</text>
<text x="139.5" y="457.2" font-size="7.7" text-anchor="middle" font-weight="normal" fill="#161616" stroke="#161616" stroke-width="0.12">22</text>
<path d="M515 0L515 1237L197 1010L197 1180L530 1409L696 1409L696 0Z" fill="#161616" stroke="#161616" stroke-width="0.12" vector-effect="non-scaling-stroke" transform="translate(156.3 445) scale(0.003760 -0.003760)"/>
<text x="160.58" y="445" font-size="7.7" text-anchor="start" font-weight="normal" fill="#161616" stroke="#161616" stroke-width="0.12">3</text>
<text x="160.58" y="457.2" font-size="7.7" text-anchor="middle" font-weight="normal" fill="#161616" stroke="#161616" stroke-width="0.12">22</text>
<path d="M515 0L515 1237L197 1010L197 1180L530 1409L696 1409L696 0Z" fill="#161616" stroke="#161616" stroke-width="0.12" vector-effect="non-scaling-stroke" transform="translate(177.38 445) scale(0.003760 -0.003760)"/>
<text x="181.66" y="445" font-size="7.7" text-anchor="start" font-weight="normal" fill="#161616" stroke="#161616" stroke-width="0.12">2</text>
<path d="M515 0L515 1237L197 1010L197 1180L530 1409L696 1409L696 0Z" fill="#161616" stroke="#161616" stroke-width="0.12" vector-effect="non-scaling-stroke" transform="translate(177.38 457.2) scale(0.003760 -0.003760)"/>
<text x="181.66" y="457.2" font-size="7.7" text-anchor="start" font-weight="normal" fill="#161616" stroke="#161616" stroke-width="0.12">9</text>
<text x="202.74" y="445" font-size="7.7" text-anchor="middle" font-weight="normal" fill="#161616" stroke="#161616" stroke-width="0.12">6</text>
<path d="M515 0L515 1237L197 1010L197 1180L530 1409L696 1409L696 0Z" fill="#161616" stroke="#161616" stroke-width="0.12" vector-effect="non-scaling-stroke" transform="translate(198.46 457.2) scale(0.003760 -0.003760)"/>
<text x="202.74" y="457.2" font-size="7.7" text-anchor="start" font-weight="normal" fill="#161616" stroke="#161616" stroke-width="0.12">4</text>
<text x="223.82" y="445" font-size="7.7" text-anchor="middle" font-weight="normal" fill="#161616" stroke="#161616" stroke-width="0.12">3</text>
<text x="223.82" y="457.2" font-size="7.7" text-anchor="middle" font-weight="normal" fill="#161616" stroke="#161616" stroke-width="0.12">6</text>
<path d="M515 0L515 1237L197 1010L197 1180L530 1409L696 1409L696 0Z" fill="#161616" stroke="#161616" stroke-width="0.12" vector-effect="non-scaling-stroke" transform="translate(242.76 445) scale(0.003760 -0.003760)"/>
<path d="M515 0L515 1237L197 1010L197 1180L530 1409L696 1409L696 0Z" fill="#161616" stroke="#161616" stroke-width="0.12" vector-effect="non-scaling-stroke" transform="translate(242.76 457.2) scale(0.003760 -0.003760)"/>
<text x="82" y="469.2" font-size="9.4" text-anchor="start" font-weight="normal" fill="#161616" stroke="#161616" stroke-width="0.12">Number of Patients At Risk</text>
<rect x="197.4" y="268.8" width="43.6" height="16.4" fill="#fff" stroke="#707070" stroke-width="1"/>
<path d="M199.9 273.4 H214.7" stroke="#444444" stroke-width="0.95" fill="none"/>
<path d="M207.3 272.2 V274.6" stroke="#444444" stroke-width="1.1" fill="none"/>
<path d="M199.9 280.4 H214.7" stroke="#666" stroke-width="0.85" stroke-dasharray="1 0.8" fill="none"/>
<path d="M207.3 279.2 V281.6" stroke="#444" stroke-width="1.1" fill="none"/>
<text x="220.1" y="275.2" font-size="5.95" text-anchor="start" font-weight="normal" fill="#161616" stroke="#161616" stroke-width="0.12">HiDAC</text>
<text x="220.1" y="282.8" font-size="5.95" text-anchor="start" font-weight="normal" fill="#161616" stroke="#161616" stroke-width="0.12">MCT</text>
<path d="M33.6 264.7 L38.4 264.7 H38.9 V266.3 H39.4 V267.9 H39.9 V269.5 H41.4 V271.5 H42.25 V272.8 H43.1 V274.1 H43.7 V275.8 L43.7 279.3 H43.85 V280.75 H44 V282.2 H44.15 V283.65 H44.3 V285.1 H44.4 V286.57 H44.5 V288.03 H44.6 V289.5 H45.05 V291.25 H45.5 V293 H45.9 V294.6 H46.3 V296.2 H46.7 V297.8 H46.78 V299.55 H46.85 V301.3 H46.92 V303.05 H47 V304.8 H47.17 V306.55 H47.35 V308.3 H47.53 V310.05 H47.7 V311.8 H48.17 V313.2 H48.63 V314.6 H49.1 V316 H49.57 V317.4 H50.03 V318.8 H50.5 V320.2 H51.17 V321.8 H51.83 V323.4 H52.5 V325 H53.23 V326.67 H53.97 V328.33 H54.7 V330 H54.98 V331.75 H55.25 V333.5 H55.52 V335.25 H55.8 V337 H56.3 V338.4 H56.8 V339.8 H58.9 V341 H59.6 V344.4 H61.9 V347.3 H78 V351.4 H94.7 V353.7 H108.4 V355.8 H112.2 V358.2 H128.5 V360.2 H133.4 V362.4 H163.3 V364.9 H174.4 V367.3 H244.8" stroke="#8a8a8a" stroke-width="1.05" stroke-dasharray="1.4 0.6" fill="none"/>
<path d="M33.6 264.7 L38.2 264.7 H38.5 V266.6 H38.58 V268.05 H38.65 V269.5 H38.72 V270.95 H38.8 V272.4 H38.97 V274.1 H39.15 V275.8 H39.33 V277.5 H39.5 V279.2 H42.5 H42.8 V280.7 H43.1 V282.2 H43.25 V283.93 H43.4 V285.65 H43.55 V287.38 H43.7 V289.1 H45.4 H45.8 V290.83 H46.2 V292.57 H46.6 V294.3 H46.8 V296.05 H47 V297.8 H48.8 H49.05 V299.38 H49.3 V300.95 H49.55 V302.53 H49.8 V304.1 H50.02 V305.64 H50.24 V307.18 H50.46 V308.72 H50.68 V310.26 H50.9 V311.8 H51.6 V313.2 H51.74 V314.88 H51.88 V316.56 H52.02 V318.24 H52.16 V319.92 H52.3 V321.6 H52.8 V323.35 H53.3 V325.1 H54.4 V327.2 H56.1 V329.3 H57.2 V331.4 H57.4 V332.86 H57.6 V334.32 H57.8 V335.78 H58 V337.24 H58.2 V338.7 H62.5 V341.5 H66.5 V344.4 H68.3 V347.3 H75.5 V350.2 H76.3 V353.1 H90.3 V356.2 H101.6 V361.2 H106.3 V364.5 H135.8 V367.5 H186 V369.5 H188.6 V370.8 H191.2 V376.4 H198.6 V381.1 H244.8" stroke="#444444" stroke-width="1.25" fill="none"/>
<path d="M116.4 362.8 V366.2" stroke="#444444" stroke-width="1" fill="none"/>
<path d="M119.3 362.8 V366.2" stroke="#444444" stroke-width="1" fill="none"/>
<path d="M147.3 365.8 V369.2" stroke="#444444" stroke-width="1" fill="none"/>
<path d="M177.5 365.8 V369.2" stroke="#444444" stroke-width="1" fill="none"/>
<path d="M181.8 365.8 V369.2" stroke="#444444" stroke-width="1" fill="none"/>
<path d="M183 365.8 V369.2" stroke="#444444" stroke-width="1" fill="none"/>
<path d="M210.2 379.4 V382.8" stroke="#444444" stroke-width="1" fill="none"/>
<path d="M221.4 379.4 V382.8" stroke="#444444" stroke-width="1" fill="none"/>
<path d="M244.4 379.4 V382.8" stroke="#444444" stroke-width="1" fill="none"/>
<path d="M78.7 349.7 V353.1" stroke="#505050" stroke-width="1" fill="none"/>
<path d="M191.2 365.6 V369" stroke="#505050" stroke-width="1" fill="none"/>
<path d="M192.9 365.6 V369" stroke="#505050" stroke-width="1" fill="none"/>
<path d="M200.7 365.6 V369" stroke="#505050" stroke-width="1" fill="none"/>
<path d="M204.1 365.6 V369" stroke="#505050" stroke-width="1" fill="none"/>
<path d="M212.8 365.6 V369" stroke="#505050" stroke-width="1" fill="none"/>
<path d="M215.4 365.6 V369" stroke="#505050" stroke-width="1" fill="none"/>
<path d="M222.3 365.6 V369" stroke="#505050" stroke-width="1" fill="none"/>
<path d="M224.9 365.6 V369" stroke="#505050" stroke-width="1" fill="none"/>
<path d="M231 365.6 V369" stroke="#505050" stroke-width="1" fill="none"/>
<path d="M236.2 365.6 V369" stroke="#505050" stroke-width="1" fill="none"/>
<path d="M241.3 365.6 V369" stroke="#505050" stroke-width="1" fill="none"/>
<path d="M243.9 365.6 V369" stroke="#505050" stroke-width="1" fill="none"/>
<path d="M139 349.5 V384.3 M137.5 349.5 H140.5 M137.5 384.3 H140.5" stroke="#444444" stroke-width="1" fill="none"/>
<path d="M141.5 346.4 V378.5 M140 346.4 H143 M140 378.5 H143" stroke="#8c8c8c" stroke-width="1" fill="none"/>
<text x="269" y="258.5" font-size="17.2" text-anchor="start" font-weight="bold" fill="#000">D</text>
<path d="M300.5 262.8 V411.9" stroke="#5a5a5a" stroke-width="1.3" fill="none"/>
<path d="M300.5 262.8 H515.3 V412.7" stroke="#5a5a5a" stroke-width="1.3" fill="none"/>
<path d="M301.1 412.7 H515.7" stroke="#5a5a5a" stroke-width="1.35" fill="none"/>
<path d="M297.8 411.3 H300.5" stroke="#5a5a5a" stroke-width="1.25" fill="none"/>
<text x="296.8" y="415.1" font-size="8" text-anchor="end" font-weight="normal" fill="#161616" stroke="#161616" stroke-width="0.12">0.0</text>
<path d="M297.8 381.8 H300.5" stroke="#5a5a5a" stroke-width="1.25" fill="none"/>
<text x="296.8" y="385.6" font-size="8" text-anchor="end" font-weight="normal" fill="#161616" stroke="#161616" stroke-width="0.12">0.2</text>
<path d="M297.8 352.3 H300.5" stroke="#5a5a5a" stroke-width="1.25" fill="none"/>
<text x="296.8" y="356.1" font-size="8" text-anchor="end" font-weight="normal" fill="#161616" stroke="#161616" stroke-width="0.12">0.4</text>
<path d="M297.8 322.8 H300.5" stroke="#5a5a5a" stroke-width="1.25" fill="none"/>
<text x="296.8" y="326.6" font-size="8" text-anchor="end" font-weight="normal" fill="#161616" stroke="#161616" stroke-width="0.12">0.6</text>
<path d="M297.8 293.3 H300.5" stroke="#5a5a5a" stroke-width="1.25" fill="none"/>
<text x="296.8" y="297.1" font-size="8" text-anchor="end" font-weight="normal" fill="#161616" stroke="#161616" stroke-width="0.12">0.8</text>
<path d="M297.8 263.8 H300.5" stroke="#5a5a5a" stroke-width="1.25" fill="none"/>
<path d="M515 0L515 1237L197 1010L197 1180L530 1409L696 1409L696 0Z" fill="#161616" stroke="#161616" stroke-width="0.12" vector-effect="non-scaling-stroke" transform="translate(285.68 267.6) scale(0.003906 -0.003906)"/>
<text x="290.13" y="267.6" font-size="8" text-anchor="start" font-weight="normal" fill="#161616" stroke="#161616" stroke-width="0.12">.0</text>
<path d="M302.3 412.7 V415.4" stroke="#5a5a5a" stroke-width="1.25" fill="none"/>
<text x="302.5" y="424.5" font-size="8" text-anchor="middle" font-weight="normal" fill="#161616" stroke="#161616" stroke-width="0.12">0</text>
<path d="M323.55 412.7 V415.4" stroke="#5a5a5a" stroke-width="1.25" fill="none"/>
<path d="M515 0L515 1237L197 1010L197 1180L530 1409L696 1409L696 0Z" fill="#161616" stroke="#161616" stroke-width="0.12" vector-effect="non-scaling-stroke" transform="translate(321.53 424.5) scale(0.003906 -0.003906)"/>
<path d="M344.8 412.7 V415.4" stroke="#5a5a5a" stroke-width="1.25" fill="none"/>
<text x="345" y="424.5" font-size="8" text-anchor="middle" font-weight="normal" fill="#161616" stroke="#161616" stroke-width="0.12">2</text>
<path d="M366.05 412.7 V415.4" stroke="#5a5a5a" stroke-width="1.25" fill="none"/>
<text x="366.25" y="424.5" font-size="8" text-anchor="middle" font-weight="normal" fill="#161616" stroke="#161616" stroke-width="0.12">3</text>
<path d="M387.3 412.7 V415.4" stroke="#5a5a5a" stroke-width="1.25" fill="none"/>
<text x="387.5" y="424.5" font-size="8" text-anchor="middle" font-weight="normal" fill="#161616" stroke="#161616" stroke-width="0.12">4</text>
<path d="M408.55 412.7 V415.4" stroke="#5a5a5a" stroke-width="1.25" fill="none"/>
<text x="408.75" y="424.5" font-size="8" text-anchor="middle" font-weight="normal" fill="#161616" stroke="#161616" stroke-width="0.12">5</text>
<path d="M429.8 412.7 V415.4" stroke="#5a5a5a" stroke-width="1.25" fill="none"/>
<text x="430" y="424.5" font-size="8" text-anchor="middle" font-weight="normal" fill="#161616" stroke="#161616" stroke-width="0.12">6</text>
<path d="M451.05 412.7 V415.4" stroke="#5a5a5a" stroke-width="1.25" fill="none"/>
<text x="451.25" y="424.5" font-size="8" text-anchor="middle" font-weight="normal" fill="#161616" stroke="#161616" stroke-width="0.12">7</text>
<path d="M472.3 412.7 V415.4" stroke="#5a5a5a" stroke-width="1.25" fill="none"/>
<text x="472.5" y="424.5" font-size="8" text-anchor="middle" font-weight="normal" fill="#161616" stroke="#161616" stroke-width="0.12">8</text>
<path d="M493.55 412.7 V415.4" stroke="#5a5a5a" stroke-width="1.25" fill="none"/>
<text x="493.75" y="424.5" font-size="8" text-anchor="middle" font-weight="normal" fill="#161616" stroke="#161616" stroke-width="0.12">9</text>
<path d="M514.8 412.7 V415.4" stroke="#5a5a5a" stroke-width="1.25" fill="none"/>
<path d="M515 0L515 1237L197 1010L197 1180L530 1409L696 1409L696 0Z" fill="#161616" stroke="#161616" stroke-width="0.12" vector-effect="non-scaling-stroke" transform="translate(510.55 424.5) scale(0.003906 -0.003906)"/>
<text x="515" y="424.5" font-size="8" text-anchor="start" font-weight="normal" fill="#161616" stroke="#161616" stroke-width="0.12">0</text>
<text x="407.65" y="434.3" font-size="9.5" text-anchor="middle" font-weight="normal" fill="#161616" stroke="#161616" stroke-width="0.12">Time (years)</text>
<text x="0" y="0" font-size="9.1" text-anchor="middle" fill="#161616" transform="translate(277.7 337.55) rotate(-90)">Survival Probability</text>
<text x="270.5" y="445.3" font-size="6.7" text-anchor="start" font-weight="bold" fill="#111">HiDAC</text>
<text x="270.5" y="457.1" font-size="6.7" text-anchor="start" font-weight="bold" fill="#111">MCT</text>
<text x="301.2" y="445.4" font-size="7.7" text-anchor="middle" font-weight="normal" fill="#161616" stroke="#161616" stroke-width="0.12">54</text>
<text x="301.2" y="457.4" font-size="7.7" text-anchor="middle" font-weight="normal" fill="#161616" stroke="#161616" stroke-width="0.12">66</text>
<text x="322.45" y="445.4" font-size="7.7" text-anchor="middle" font-weight="normal" fill="#161616" stroke="#161616" stroke-width="0.12">46</text>
<text x="322.45" y="457.4" font-size="7.7" text-anchor="middle" font-weight="normal" fill="#161616" stroke="#161616" stroke-width="0.12">55</text>
<text x="343.7" y="445.4" font-size="7.7" text-anchor="middle" font-weight="normal" fill="#161616" stroke="#161616" stroke-width="0.12">28</text>
<text x="343.7" y="457.4" font-size="7.7" text-anchor="middle" font-weight="normal" fill="#161616" stroke="#161616" stroke-width="0.12">37</text>
<text x="364.95" y="445.4" font-size="7.7" text-anchor="middle" font-weight="normal" fill="#161616" stroke="#161616" stroke-width="0.12">27</text>
<text x="364.95" y="457.4" font-size="7.7" text-anchor="middle" font-weight="normal" fill="#161616" stroke="#161616" stroke-width="0.12">34</text>
<text x="386.2" y="445.4" font-size="7.7" text-anchor="middle" font-weight="normal" fill="#161616" stroke="#161616" stroke-width="0.12">26</text>
<text x="386.2" y="457.4" font-size="7.7" text-anchor="middle" font-weight="normal" fill="#161616" stroke="#161616" stroke-width="0.12">33</text>
<text x="407.45" y="445.4" font-size="7.7" text-anchor="middle" font-weight="normal" fill="#161616" stroke="#161616" stroke-width="0.12">24</text>
<text x="407.45" y="457.4" font-size="7.7" text-anchor="middle" font-weight="normal" fill="#161616" stroke="#161616" stroke-width="0.12">32</text>
<text x="424.42" y="445.4" font-size="7.7" text-anchor="start" font-weight="normal" fill="#161616" stroke="#161616" stroke-width="0.12">2</text>
<path d="M515 0L515 1237L197 1010L197 1180L530 1409L696 1409L696 0Z" fill="#161616" stroke="#161616" stroke-width="0.12" vector-effect="non-scaling-stroke" transform="translate(428.7 445.4) scale(0.003760 -0.003760)"/>
<text x="424.42" y="457.4" font-size="7.7" text-anchor="start" font-weight="normal" fill="#161616" stroke="#161616" stroke-width="0.12">3</text>
<path d="M515 0L515 1237L197 1010L197 1180L530 1409L696 1409L696 0Z" fill="#161616" stroke="#161616" stroke-width="0.12" vector-effect="non-scaling-stroke" transform="translate(428.7 457.4) scale(0.003760 -0.003760)"/>
<path d="M515 0L515 1237L197 1010L197 1180L530 1409L696 1409L696 0Z" fill="#161616" stroke="#161616" stroke-width="0.12" vector-effect="non-scaling-stroke" transform="translate(445.67 445.4) scale(0.003760 -0.003760)"/>
<text x="449.95" y="445.4" font-size="7.7" text-anchor="start" font-weight="normal" fill="#161616" stroke="#161616" stroke-width="0.12">7</text>
<text x="449.95" y="457.4" font-size="7.7" text-anchor="middle" font-weight="normal" fill="#161616" stroke="#161616" stroke-width="0.12">28</text>
<path d="M515 0L515 1237L197 1010L197 1180L530 1409L696 1409L696 0Z" fill="#161616" stroke="#161616" stroke-width="0.12" vector-effect="non-scaling-stroke" transform="translate(466.92 445.4) scale(0.003760 -0.003760)"/>
<text x="471.2" y="445.4" font-size="7.7" text-anchor="start" font-weight="normal" fill="#161616" stroke="#161616" stroke-width="0.12">0</text>
<text x="471.2" y="457.4" font-size="7.7" text-anchor="middle" font-weight="normal" fill="#161616" stroke="#161616" stroke-width="0.12">23</text>
<text x="492.45" y="445.4" font-size="7.7" text-anchor="middle" font-weight="normal" fill="#161616" stroke="#161616" stroke-width="0.12">3</text>
<path d="M515 0L515 1237L197 1010L197 1180L530 1409L696 1409L696 0Z" fill="#161616" stroke="#161616" stroke-width="0.12" vector-effect="non-scaling-stroke" transform="translate(488.17 457.4) scale(0.003760 -0.003760)"/>
<text x="492.45" y="457.4" font-size="7.7" text-anchor="start" font-weight="normal" fill="#161616" stroke="#161616" stroke-width="0.12">4</text>
<text x="513.7" y="445.4" font-size="7.7" text-anchor="middle" font-weight="normal" fill="#161616" stroke="#161616" stroke-width="0.12">3</text>
<text x="513.7" y="457.4" font-size="7.7" text-anchor="middle" font-weight="normal" fill="#161616" stroke="#161616" stroke-width="0.12">2</text>
<text x="350" y="469.2" font-size="9.4" text-anchor="start" font-weight="normal" fill="#161616" stroke="#161616" stroke-width="0.12">Number of Patients At Risk</text>
<rect x="466.3" y="267.6" width="44.4" height="16.3" fill="#fff" stroke="#707070" stroke-width="1"/>
<path d="M468.6 271.7 H484.2" stroke="#444444" stroke-width="0.95" fill="none"/>
<path d="M476.4 270.5 V272.9" stroke="#444444" stroke-width="1.1" fill="none"/>
<path d="M468.6 279.2 H484.2" stroke="#666" stroke-width="0.85" stroke-dasharray="1 0.8" fill="none"/>
<path d="M476.4 278 V280.4" stroke="#444" stroke-width="1.1" fill="none"/>
<text x="489.2" y="273.9" font-size="6.3" text-anchor="start" font-weight="normal" fill="#161616" stroke="#161616" stroke-width="0.12">HiDAC</text>
<text x="489.2" y="281.2" font-size="6.3" text-anchor="start" font-weight="normal" fill="#161616" stroke="#161616" stroke-width="0.12">MCT</text>
<path d="M301.5 263.6 L310.8 263.6 H311.52 V265.15 H312.25 V266.7 H312.98 V268.25 H313.7 V269.8 H316.5 H316.6 V271.53 H316.7 V273.27 H316.8 V275 H318.3 V276.7 H318.45 V278.45 H318.6 V280.2 H319.25 V281.65 H319.9 V283.1 H320.55 V284.55 H321.2 V286 H322.35 V287.5 H323.5 V289 H324.65 V290.65 H325.8 V292.3 H325.93 V293.83 H326.07 V295.37 H326.2 V296.9 H326.6 V298.45 H327 V300 H327.13 V301.43 H327.27 V302.87 H327.4 V304.3 H328.55 V305.65 H329.7 V307 H331.6 V308.5 H332.13 V310.17 H332.67 V311.83 H333.2 V313.5 H333.5 V314.96 H333.8 V316.42 H334.1 V317.88 H334.4 V319.34 H334.7 V320.8 H337 V321.6 H340.5 V323.9 H341.7 V325.5 H343.4 V327.05 H345.1 V328.6 H346.85 V330.3 H348.6 V332 H349 V333.6 H365.7 V335.2 H378.8 V337.6 H404.4 V339.9 H428.1 V341.9 H444.3 V344.3 H463.2 V346.8 H487.4 V350.9 H497.2 V356.3 H514.5" stroke="#8a8a8a" stroke-width="1.05" stroke-dasharray="1.4 0.6" fill="none"/>
<path d="M301.5 263.6 L310.5 263.6 H311.2 V265.25 H311.9 V266.9 H312.05 V268.35 H312.2 V269.8 H312.65 V271.25 H313.1 V272.7 H313.57 V274.03 H314.03 V275.37 H314.5 V276.7 H315.1 V278.45 H315.7 V280.2 H318.6 H318.77 V281.73 H318.93 V283.27 H319.1 V284.8 H321.7 H323.5 V287.1 H323.87 V288.47 H324.23 V289.83 H324.6 V291.2 H325.27 V292.6 H325.93 V294 H326.6 V295.4 H327.8 V296.9 H328.07 V298.47 H328.33 V300.03 H328.6 V301.6 H330.1 V303.3 H331.6 V305 H332 V306.35 H332.4 V307.7 H332.67 V309.5 H332.93 V311.3 H333.2 V313.1 H334 V315.4 H334.14 V317.1 H334.28 V318.8 H334.42 V320.5 H334.56 V322.2 H334.7 V323.9 H335.9 V326.2 H338.2 V327 H338.47 V328.53 H338.73 V330.07 H339 V331.6 H342.8 V333.2 H344 V335.1 H350.5 V337.4 H379.8 V340.2 H392.3 V343 H401.3 V345.7 H443.1 V348.5 H447.1 V352.5 H469 V362.5 H479.3 V367.4 H514.5" stroke="#444444" stroke-width="1.25" fill="none"/>
<path d="M412.5 344 V347.4" stroke="#444444" stroke-width="1" fill="none"/>
<path d="M417.5 344 V347.4" stroke="#444444" stroke-width="1" fill="none"/>
<path d="M422.9 344 V347.4" stroke="#444444" stroke-width="1" fill="none"/>
<path d="M435.2 344 V347.4" stroke="#444444" stroke-width="1" fill="none"/>
<path d="M437.5 344 V347.4" stroke="#444444" stroke-width="1" fill="none"/>
<path d="M454 350.8 V354.2" stroke="#444444" stroke-width="1" fill="none"/>
<path d="M459.3 350.8 V354.2" stroke="#444444" stroke-width="1" fill="none"/>
<path d="M480.5 365.7 V369.1" stroke="#444444" stroke-width="1" fill="none"/>
<path d="M484.5 365.7 V369.1" stroke="#444444" stroke-width="1" fill="none"/>
<path d="M488.6 365.7 V369.1" stroke="#444444" stroke-width="1" fill="none"/>
<path d="M492.3 365.7 V369.1" stroke="#444444" stroke-width="1" fill="none"/>
<path d="M407.3 338.2 V341.6" stroke="#505050" stroke-width="1" fill="none"/>
<path d="M425.2 338.2 V341.6" stroke="#505050" stroke-width="1" fill="none"/>
<path d="M443.7 340.2 V343.6" stroke="#505050" stroke-width="1" fill="none"/>
<path d="M448.6 342.6 V346" stroke="#505050" stroke-width="1" fill="none"/>
<path d="M454 342.6 V346" stroke="#505050" stroke-width="1" fill="none"/>
<path d="M460.3 342.6 V346" stroke="#505050" stroke-width="1" fill="none"/>
<path d="M472.4 345.1 V348.5" stroke="#505050" stroke-width="1" fill="none"/>
<path d="M474.2 345.1 V348.5" stroke="#505050" stroke-width="1" fill="none"/>
<path d="M475.9 345.1 V348.5" stroke="#505050" stroke-width="1" fill="none"/>
<path d="M477 345.1 V348.5" stroke="#505050" stroke-width="1" fill="none"/>
<path d="M482.8 345.1 V348.5" stroke="#505050" stroke-width="1" fill="none"/>
<path d="M486.8 345.1 V348.5" stroke="#505050" stroke-width="1" fill="none"/>
<path d="M493.8 349.2 V352.6" stroke="#505050" stroke-width="1" fill="none"/>
<path d="M496.7 349.2 V352.6" stroke="#505050" stroke-width="1" fill="none"/>
<path d="M503 354.6 V358" stroke="#505050" stroke-width="1" fill="none"/>
<path d="M507.6 354.6 V358" stroke="#505050" stroke-width="1" fill="none"/>
<path d="M514 354.6 V358" stroke="#505050" stroke-width="1" fill="none"/>
<path d="M407.6 327.5 V365.5 M406.1 327.5 H409.1 M406.1 365.5 H409.1" stroke="#444444" stroke-width="1" fill="none"/>
<path d="M410 323.4 V358.4 M408.5 323.4 H411.5 M408.5 358.4 H411.5" stroke="#8c8c8c" stroke-width="1" fill="none"/>
<text x="0.4" y="499.9" font-size="17.2" text-anchor="start" font-weight="bold" fill="#000">E</text>
<path d="M31.5 505.5 V654.4" stroke="#5a5a5a" stroke-width="1.3" fill="none"/>
<path d="M31.5 505.5 H245.8 V655" stroke="#5a5a5a" stroke-width="1.3" fill="none"/>
<path d="M32.1 655 H246.2" stroke="#5a5a5a" stroke-width="1.35" fill="none"/>
<path d="M28.8 653.8 H31.5" stroke="#5a5a5a" stroke-width="1.25" fill="none"/>
<text x="27.8" y="657.6" font-size="8" text-anchor="end" font-weight="normal" fill="#161616" stroke="#161616" stroke-width="0.12">0.0</text>
<path d="M28.8 624.34 H31.5" stroke="#5a5a5a" stroke-width="1.25" fill="none"/>
<text x="27.8" y="628.14" font-size="8" text-anchor="end" font-weight="normal" fill="#161616" stroke="#161616" stroke-width="0.12">0.2</text>
<path d="M28.8 594.88 H31.5" stroke="#5a5a5a" stroke-width="1.25" fill="none"/>
<text x="27.8" y="598.68" font-size="8" text-anchor="end" font-weight="normal" fill="#161616" stroke="#161616" stroke-width="0.12">0.4</text>
<path d="M28.8 565.42 H31.5" stroke="#5a5a5a" stroke-width="1.25" fill="none"/>
<text x="27.8" y="569.22" font-size="8" text-anchor="end" font-weight="normal" fill="#161616" stroke="#161616" stroke-width="0.12">0.6</text>
<path d="M28.8 535.96 H31.5" stroke="#5a5a5a" stroke-width="1.25" fill="none"/>
<text x="27.8" y="539.76" font-size="8" text-anchor="end" font-weight="normal" fill="#161616" stroke="#161616" stroke-width="0.12">0.8</text>
<path d="M28.8 506.5 H31.5" stroke="#5a5a5a" stroke-width="1.25" fill="none"/>
<path d="M515 0L515 1237L197 1010L197 1180L530 1409L696 1409L696 0Z" fill="#161616" stroke="#161616" stroke-width="0.12" vector-effect="non-scaling-stroke" transform="translate(16.68 510.3) scale(0.003906 -0.003906)"/>
<text x="21.13" y="510.3" font-size="8" text-anchor="start" font-weight="normal" fill="#161616" stroke="#161616" stroke-width="0.12">.0</text>
<path d="M33.6 655 V657.7" stroke="#5a5a5a" stroke-width="1.25" fill="none"/>
<text x="33.8" y="666.6" font-size="8" text-anchor="middle" font-weight="normal" fill="#161616" stroke="#161616" stroke-width="0.12">0</text>
<path d="M54.82 655 V657.7" stroke="#5a5a5a" stroke-width="1.25" fill="none"/>
<path d="M515 0L515 1237L197 1010L197 1180L530 1409L696 1409L696 0Z" fill="#161616" stroke="#161616" stroke-width="0.12" vector-effect="non-scaling-stroke" transform="translate(52.8 666.6) scale(0.003906 -0.003906)"/>
<path d="M76.04 655 V657.7" stroke="#5a5a5a" stroke-width="1.25" fill="none"/>
<text x="76.24" y="666.6" font-size="8" text-anchor="middle" font-weight="normal" fill="#161616" stroke="#161616" stroke-width="0.12">2</text>
<path d="M97.26 655 V657.7" stroke="#5a5a5a" stroke-width="1.25" fill="none"/>
<text x="97.46" y="666.6" font-size="8" text-anchor="middle" font-weight="normal" fill="#161616" stroke="#161616" stroke-width="0.12">3</text>
<path d="M118.48 655 V657.7" stroke="#5a5a5a" stroke-width="1.25" fill="none"/>
<text x="118.68" y="666.6" font-size="8" text-anchor="middle" font-weight="normal" fill="#161616" stroke="#161616" stroke-width="0.12">4</text>
<path d="M139.7 655 V657.7" stroke="#5a5a5a" stroke-width="1.25" fill="none"/>
<text x="139.9" y="666.6" font-size="8" text-anchor="middle" font-weight="normal" fill="#161616" stroke="#161616" stroke-width="0.12">5</text>
<path d="M160.92 655 V657.7" stroke="#5a5a5a" stroke-width="1.25" fill="none"/>
<text x="161.12" y="666.6" font-size="8" text-anchor="middle" font-weight="normal" fill="#161616" stroke="#161616" stroke-width="0.12">6</text>
<path d="M182.14 655 V657.7" stroke="#5a5a5a" stroke-width="1.25" fill="none"/>
<text x="182.34" y="666.6" font-size="8" text-anchor="middle" font-weight="normal" fill="#161616" stroke="#161616" stroke-width="0.12">7</text>
<path d="M203.36 655 V657.7" stroke="#5a5a5a" stroke-width="1.25" fill="none"/>
<text x="203.56" y="666.6" font-size="8" text-anchor="middle" font-weight="normal" fill="#161616" stroke="#161616" stroke-width="0.12">8</text>
<path d="M224.58 655 V657.7" stroke="#5a5a5a" stroke-width="1.25" fill="none"/>
<text x="224.78" y="666.6" font-size="8" text-anchor="middle" font-weight="normal" fill="#161616" stroke="#161616" stroke-width="0.12">9</text>
<path d="M245.8 655 V657.7" stroke="#5a5a5a" stroke-width="1.25" fill="none"/>
<path d="M515 0L515 1237L197 1010L197 1180L530 1409L696 1409L696 0Z" fill="#161616" stroke="#161616" stroke-width="0.12" vector-effect="non-scaling-stroke" transform="translate(241.55 666.6) scale(0.003906 -0.003906)"/>
<text x="246" y="666.6" font-size="8" text-anchor="start" font-weight="normal" fill="#161616" stroke="#161616" stroke-width="0.12">0</text>
<text x="138.8" y="676.6" font-size="9.5" text-anchor="middle" font-weight="normal" fill="#161616" stroke="#161616" stroke-width="0.12">Time (years)</text>
<text x="0" y="0" font-size="9.1" text-anchor="middle" fill="#161616" transform="translate(9.4 579.65) rotate(-90)">Disease-Free Survival Probability</text>
<text x="0.9" y="688.4" font-size="6.7" text-anchor="start" font-weight="bold" fill="#111">HiDAC</text>
<text x="0.9" y="698.9" font-size="6.7" text-anchor="start" font-weight="bold" fill="#111">MCT</text>
<path d="M515 0L515 1237L197 1010L197 1180L530 1409L696 1409L696 0Z" fill="#161616" stroke="#161616" stroke-width="0.12" vector-effect="non-scaling-stroke" transform="translate(28.32 688) scale(0.003760 -0.003760)"/>
<path d="M515 0L515 1237L197 1010L197 1180L530 1409L696 1409L696 0Z" fill="#161616" stroke="#161616" stroke-width="0.12" vector-effect="non-scaling-stroke" transform="translate(32.6 688) scale(0.003760 -0.003760)"/>
<text x="32.6" y="698.7" font-size="7.7" text-anchor="middle" font-weight="normal" fill="#161616" stroke="#161616" stroke-width="0.12">4</text>
<text x="53.82" y="688" font-size="7.7" text-anchor="middle" font-weight="normal" fill="#161616" stroke="#161616" stroke-width="0.12">2</text>
<text x="53.82" y="698.7" font-size="7.7" text-anchor="middle" font-weight="normal" fill="#161616" stroke="#161616" stroke-width="0.12">0</text>
<text x="75.04" y="688" font-size="7.7" text-anchor="middle" font-weight="normal" fill="#161616" stroke="#161616" stroke-width="0.12">0</text>
<text x="75.04" y="698.7" font-size="7.7" text-anchor="middle" font-weight="normal" fill="#161616" stroke="#161616" stroke-width="0.12">0</text>
<text x="96.26" y="688" font-size="7.7" text-anchor="middle" font-weight="normal" fill="#161616" stroke="#161616" stroke-width="0.12">0</text>
<text x="96.26" y="698.7" font-size="7.7" text-anchor="middle" font-weight="normal" fill="#161616" stroke="#161616" stroke-width="0.12">0</text>
<text x="117.48" y="688" font-size="7.7" text-anchor="middle" font-weight="normal" fill="#161616" stroke="#161616" stroke-width="0.12">0</text>
<text x="117.48" y="698.7" font-size="7.7" text-anchor="middle" font-weight="normal" fill="#161616" stroke="#161616" stroke-width="0.12">0</text>
<text x="138.7" y="688" font-size="7.7" text-anchor="middle" font-weight="normal" fill="#161616" stroke="#161616" stroke-width="0.12">0</text>
<text x="138.7" y="698.7" font-size="7.7" text-anchor="middle" font-weight="normal" fill="#161616" stroke="#161616" stroke-width="0.12">0</text>
<text x="159.92" y="688" font-size="7.7" text-anchor="middle" font-weight="normal" fill="#161616" stroke="#161616" stroke-width="0.12">0</text>
<text x="159.92" y="698.7" font-size="7.7" text-anchor="middle" font-weight="normal" fill="#161616" stroke="#161616" stroke-width="0.12">0</text>
<text x="181.14" y="688" font-size="7.7" text-anchor="middle" font-weight="normal" fill="#161616" stroke="#161616" stroke-width="0.12">0</text>
<text x="181.14" y="698.7" font-size="7.7" text-anchor="middle" font-weight="normal" fill="#161616" stroke="#161616" stroke-width="0.12">0</text>
<text x="202.36" y="688" font-size="7.7" text-anchor="middle" font-weight="normal" fill="#161616" stroke="#161616" stroke-width="0.12">0</text>
<text x="202.36" y="698.7" font-size="7.7" text-anchor="middle" font-weight="normal" fill="#161616" stroke="#161616" stroke-width="0.12">0</text>
<text x="223.58" y="688" font-size="7.7" text-anchor="middle" font-weight="normal" fill="#161616" stroke="#161616" stroke-width="0.12">0</text>
<text x="223.58" y="698.7" font-size="7.7" text-anchor="middle" font-weight="normal" fill="#161616" stroke="#161616" stroke-width="0.12">0</text>
<text x="244.8" y="688" font-size="7.7" text-anchor="middle" font-weight="normal" fill="#161616" stroke="#161616" stroke-width="0.12">0</text>
<text x="244.8" y="698.7" font-size="7.7" text-anchor="middle" font-weight="normal" fill="#161616" stroke="#161616" stroke-width="0.12">0</text>
<text x="81.2" y="711.3" font-size="9.4" text-anchor="start" font-weight="normal" fill="#161616" stroke="#161616" stroke-width="0.12">Number of Patients At Risk</text>
<rect x="184.5" y="509.9" width="57.2" height="21.4" fill="#fff" stroke="#707070" stroke-width="1"/>
<path d="M187.7 515.6 H207.7" stroke="#444444" stroke-width="1.2" fill="none"/>
<path d="M197.7 514 V517.2" stroke="#444444" stroke-width="1.1" fill="none"/>
<path d="M187.7 525.1 H207.7" stroke="#666" stroke-width="1.1" stroke-dasharray="1 0.8" fill="none"/>
<path d="M197.7 523.5 V526.7" stroke="#444" stroke-width="1.1" fill="none"/>
<text x="214" y="518.2" font-size="7.75" text-anchor="start" font-weight="normal" fill="#161616" stroke="#161616" stroke-width="0.12">HiDAC</text>
<text x="214" y="528.2" font-size="7.75" text-anchor="start" font-weight="normal" fill="#161616" stroke="#161616" stroke-width="0.12">MCT</text>
<path d="M32.5 506.3H38.9V580H46.1V617H51.7V654.5" stroke="#8a8a8a" stroke-width="1.05" stroke-dasharray="1.4 0.6" fill="none"/>
<path d="M32.5 506.3H37.9V533.4H40.7V547.1H41.8V560.4H45.2V573.6H46.5V586.6H48.6V600.4H51.6V614H52.7V627.4H55.4V640.8H58.3V654.5" stroke="#444444" stroke-width="1.25" fill="none"/>
<text x="269.5" y="499.7" font-size="17.2" text-anchor="start" font-weight="bold" fill="#000">F</text>
<path d="M302.2 506.9 V654.4" stroke="#5a5a5a" stroke-width="1.3" fill="none"/>
<path d="M302.2 506.9 H515.3 V655.1" stroke="#5a5a5a" stroke-width="1.3" fill="none"/>
<path d="M302.8 655.1 H515.7" stroke="#5a5a5a" stroke-width="1.35" fill="none"/>
<path d="M299.5 653.8 H302.2" stroke="#5a5a5a" stroke-width="1.25" fill="none"/>
<text x="298.5" y="657.6" font-size="8" text-anchor="end" font-weight="normal" fill="#161616" stroke="#161616" stroke-width="0.12">0.0</text>
<path d="M299.5 624.6 H302.2" stroke="#5a5a5a" stroke-width="1.25" fill="none"/>
<text x="298.5" y="628.4" font-size="8" text-anchor="end" font-weight="normal" fill="#161616" stroke="#161616" stroke-width="0.12">0.2</text>
<path d="M299.5 595.4 H302.2" stroke="#5a5a5a" stroke-width="1.25" fill="none"/>
<text x="298.5" y="599.2" font-size="8" text-anchor="end" font-weight="normal" fill="#161616" stroke="#161616" stroke-width="0.12">0.4</text>
<path d="M299.5 566.2 H302.2" stroke="#5a5a5a" stroke-width="1.25" fill="none"/>
<text x="298.5" y="570" font-size="8" text-anchor="end" font-weight="normal" fill="#161616" stroke="#161616" stroke-width="0.12">0.6</text>
<path d="M299.5 537 H302.2" stroke="#5a5a5a" stroke-width="1.25" fill="none"/>
<text x="298.5" y="540.8" font-size="8" text-anchor="end" font-weight="normal" fill="#161616" stroke="#161616" stroke-width="0.12">0.8</text>
<path d="M299.5 507.8 H302.2" stroke="#5a5a5a" stroke-width="1.25" fill="none"/>
<path d="M515 0L515 1237L197 1010L197 1180L530 1409L696 1409L696 0Z" fill="#161616" stroke="#161616" stroke-width="0.12" vector-effect="non-scaling-stroke" transform="translate(287.38 511.6) scale(0.003906 -0.003906)"/>
<text x="291.83" y="511.6" font-size="8" text-anchor="start" font-weight="normal" fill="#161616" stroke="#161616" stroke-width="0.12">.0</text>
<path d="M304.4 655.1 V657.8" stroke="#5a5a5a" stroke-width="1.25" fill="none"/>
<text x="304.6" y="666.6" font-size="8" text-anchor="middle" font-weight="normal" fill="#161616" stroke="#161616" stroke-width="0.12">0</text>
<path d="M325.45 655.1 V657.8" stroke="#5a5a5a" stroke-width="1.25" fill="none"/>
<path d="M515 0L515 1237L197 1010L197 1180L530 1409L696 1409L696 0Z" fill="#161616" stroke="#161616" stroke-width="0.12" vector-effect="non-scaling-stroke" transform="translate(323.43 666.6) scale(0.003906 -0.003906)"/>
<path d="M346.5 655.1 V657.8" stroke="#5a5a5a" stroke-width="1.25" fill="none"/>
<text x="346.7" y="666.6" font-size="8" text-anchor="middle" font-weight="normal" fill="#161616" stroke="#161616" stroke-width="0.12">2</text>
<path d="M367.55 655.1 V657.8" stroke="#5a5a5a" stroke-width="1.25" fill="none"/>
<text x="367.75" y="666.6" font-size="8" text-anchor="middle" font-weight="normal" fill="#161616" stroke="#161616" stroke-width="0.12">3</text>
<path d="M388.6 655.1 V657.8" stroke="#5a5a5a" stroke-width="1.25" fill="none"/>
<text x="388.8" y="666.6" font-size="8" text-anchor="middle" font-weight="normal" fill="#161616" stroke="#161616" stroke-width="0.12">4</text>
<path d="M409.65 655.1 V657.8" stroke="#5a5a5a" stroke-width="1.25" fill="none"/>
<text x="409.85" y="666.6" font-size="8" text-anchor="middle" font-weight="normal" fill="#161616" stroke="#161616" stroke-width="0.12">5</text>
<path d="M430.7 655.1 V657.8" stroke="#5a5a5a" stroke-width="1.25" fill="none"/>
<text x="430.9" y="666.6" font-size="8" text-anchor="middle" font-weight="normal" fill="#161616" stroke="#161616" stroke-width="0.12">6</text>
<path d="M451.75 655.1 V657.8" stroke="#5a5a5a" stroke-width="1.25" fill="none"/>
<text x="451.95" y="666.6" font-size="8" text-anchor="middle" font-weight="normal" fill="#161616" stroke="#161616" stroke-width="0.12">7</text>
<path d="M472.8 655.1 V657.8" stroke="#5a5a5a" stroke-width="1.25" fill="none"/>
<text x="473" y="666.6" font-size="8" text-anchor="middle" font-weight="normal" fill="#161616" stroke="#161616" stroke-width="0.12">8</text>
<path d="M493.85 655.1 V657.8" stroke="#5a5a5a" stroke-width="1.25" fill="none"/>
<text x="494.05" y="666.6" font-size="8" text-anchor="middle" font-weight="normal" fill="#161616" stroke="#161616" stroke-width="0.12">9</text>
<path d="M514.9 655.1 V657.8" stroke="#5a5a5a" stroke-width="1.25" fill="none"/>
<path d="M515 0L515 1237L197 1010L197 1180L530 1409L696 1409L696 0Z" fill="#161616" stroke="#161616" stroke-width="0.12" vector-effect="non-scaling-stroke" transform="translate(510.65 666.6) scale(0.003906 -0.003906)"/>
<text x="515.1" y="666.6" font-size="8" text-anchor="start" font-weight="normal" fill="#161616" stroke="#161616" stroke-width="0.12">0</text>
<text x="408.75" y="676.6" font-size="9.5" text-anchor="middle" font-weight="normal" fill="#161616" stroke="#161616" stroke-width="0.12">Time (years)</text>
<text x="0" y="0" font-size="9.1" text-anchor="middle" fill="#161616" transform="translate(279 580.8) rotate(-90)">Survival Probability</text>
<text x="270.5" y="688.6" font-size="6.7" text-anchor="start" font-weight="bold" fill="#111">HiDAC</text>
<text x="270.5" y="698.9" font-size="6.7" text-anchor="start" font-weight="bold" fill="#111">MCT</text>
<path d="M515 0L515 1237L197 1010L197 1180L530 1409L696 1409L696 0Z" fill="#161616" stroke="#161616" stroke-width="0.12" vector-effect="non-scaling-stroke" transform="translate(299.02 688.2) scale(0.003760 -0.003760)"/>
<path d="M515 0L515 1237L197 1010L197 1180L530 1409L696 1409L696 0Z" fill="#161616" stroke="#161616" stroke-width="0.12" vector-effect="non-scaling-stroke" transform="translate(303.3 688.2) scale(0.003760 -0.003760)"/>
<text x="303.3" y="698.7" font-size="7.7" text-anchor="middle" font-weight="normal" fill="#161616" stroke="#161616" stroke-width="0.12">4</text>
<text x="324.35" y="688.2" font-size="7.7" text-anchor="middle" font-weight="normal" fill="#161616" stroke="#161616" stroke-width="0.12">8</text>
<text x="324.35" y="698.7" font-size="7.7" text-anchor="middle" font-weight="normal" fill="#161616" stroke="#161616" stroke-width="0.12">2</text>
<path d="M515 0L515 1237L197 1010L197 1180L530 1409L696 1409L696 0Z" fill="#161616" stroke="#161616" stroke-width="0.12" vector-effect="non-scaling-stroke" transform="translate(343.26 688.2) scale(0.003760 -0.003760)"/>
<path d="M515 0L515 1237L197 1010L197 1180L530 1409L696 1409L696 0Z" fill="#161616" stroke="#161616" stroke-width="0.12" vector-effect="non-scaling-stroke" transform="translate(343.26 698.7) scale(0.003760 -0.003760)"/>
<text x="366.45" y="688.2" font-size="7.7" text-anchor="middle" font-weight="normal" fill="#161616" stroke="#161616" stroke-width="0.12">0</text>
<text x="366.45" y="698.7" font-size="7.7" text-anchor="middle" font-weight="normal" fill="#161616" stroke="#161616" stroke-width="0.12">0</text>
<text x="387.5" y="688.2" font-size="7.7" text-anchor="middle" font-weight="normal" fill="#161616" stroke="#161616" stroke-width="0.12">0</text>
<text x="387.5" y="698.7" font-size="7.7" text-anchor="middle" font-weight="normal" fill="#161616" stroke="#161616" stroke-width="0.12">0</text>
<text x="408.55" y="688.2" font-size="7.7" text-anchor="middle" font-weight="normal" fill="#161616" stroke="#161616" stroke-width="0.12">0</text>
<text x="408.55" y="698.7" font-size="7.7" text-anchor="middle" font-weight="normal" fill="#161616" stroke="#161616" stroke-width="0.12">0</text>
<text x="429.6" y="688.2" font-size="7.7" text-anchor="middle" font-weight="normal" fill="#161616" stroke="#161616" stroke-width="0.12">0</text>
<text x="429.6" y="698.7" font-size="7.7" text-anchor="middle" font-weight="normal" fill="#161616" stroke="#161616" stroke-width="0.12">0</text>
<text x="450.65" y="688.2" font-size="7.7" text-anchor="middle" font-weight="normal" fill="#161616" stroke="#161616" stroke-width="0.12">0</text>
<text x="450.65" y="698.7" font-size="7.7" text-anchor="middle" font-weight="normal" fill="#161616" stroke="#161616" stroke-width="0.12">0</text>
<text x="471.7" y="688.2" font-size="7.7" text-anchor="middle" font-weight="normal" fill="#161616" stroke="#161616" stroke-width="0.12">0</text>
<text x="471.7" y="698.7" font-size="7.7" text-anchor="middle" font-weight="normal" fill="#161616" stroke="#161616" stroke-width="0.12">0</text>
<text x="492.75" y="688.2" font-size="7.7" text-anchor="middle" font-weight="normal" fill="#161616" stroke="#161616" stroke-width="0.12">0</text>
<text x="492.75" y="698.7" font-size="7.7" text-anchor="middle" font-weight="normal" fill="#161616" stroke="#161616" stroke-width="0.12">0</text>
<text x="513.8" y="688.2" font-size="7.7" text-anchor="middle" font-weight="normal" fill="#161616" stroke="#161616" stroke-width="0.12">0</text>
<text x="513.8" y="698.7" font-size="7.7" text-anchor="middle" font-weight="normal" fill="#161616" stroke="#161616" stroke-width="0.12">0</text>
<text x="352" y="711.3" font-size="9.4" text-anchor="start" font-weight="normal" fill="#161616" stroke="#161616" stroke-width="0.12">Number of Patients At Risk</text>
<rect x="454.4" y="510.6" width="57.1" height="20.7" fill="#fff" stroke="#707070" stroke-width="1"/>
<path d="M457.3 516.2 H477.1" stroke="#444444" stroke-width="1.2" fill="none"/>
<path d="M467.2 514.6 V517.8" stroke="#444444" stroke-width="1.1" fill="none"/>
<path d="M457.3 525.8 H477.1" stroke="#666" stroke-width="1.1" stroke-dasharray="1 0.8" fill="none"/>
<path d="M467.2 524.2 V527.4" stroke="#444" stroke-width="1.1" fill="none"/>
<text x="483.7" y="518.8" font-size="7.75" text-anchor="start" font-weight="normal" fill="#161616" stroke="#161616" stroke-width="0.12">HiDAC</text>
<text x="483.7" y="528.6" font-size="7.75" text-anchor="start" font-weight="normal" fill="#161616" stroke="#161616" stroke-width="0.12">MCT</text>
<path d="M303.3 507.6H311.5V544H319.3V580.6H337.3V617.3H355.9V654.5" stroke="#8a8a8a" stroke-width="1.05" stroke-dasharray="1.4 0.6" fill="none"/>
<path d="M303.3 507.6H322.9V547.5H330.1V560.3H331.7V573.6H333.4V587H335.7V600.8H337.3V614.3H339.3V640.5H350.4V654.5" stroke="#444444" stroke-width="1.25" fill="none"/>
</svg></body></html>
